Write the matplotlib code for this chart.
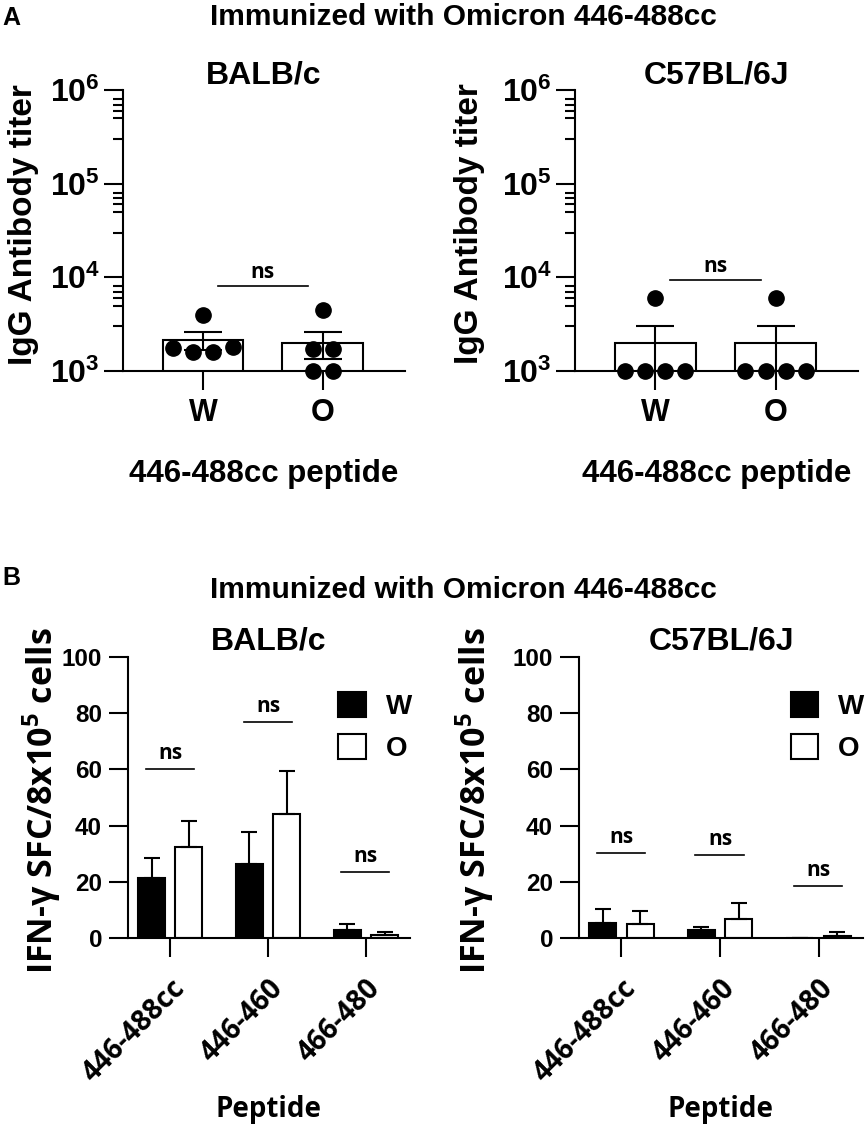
import numpy as np
import matplotlib
matplotlib.use("Agg")
import matplotlib.pyplot as plt
from matplotlib.ticker import LogLocator, NullFormatter

plt.rcParams['font.family'] = 'Liberation Sans'
plt.rcParams['font.weight'] = 'bold'
plt.rcParams['axes.titleweight'] = 'bold'
plt.rcParams['mathtext.default'] = 'regular'
plt.rcParams['axes.linewidth'] = 1.5

SANS2 = 'Open Sans'  # stand-in for the Calibri-like text

# ---- data ----
strains = ['BALB/c', 'C57BL/6J']
groups = ['W', 'O']

# panel A: IgG titer per mouse
titer_balb_w = [3960, 1760, 1600, 1600, 1800]
titer_balb_o = [4480, 1720, 1720, 1000, 1000]
titer_c57_w = [6000, 1000, 1000, 1000, 1000]
titer_c57_o = [6000, 1000, 1000, 1000, 1000]
ns_titer = [8070, 9350]

# panel B: IFN-g SFC mean and SEM
peptides = ['446-488cc', '446-460', '466-480']
sfc_balb_w = [21.5, 26.5, 2.8]
sfc_balb_w_sem = [7.0, 11.3, 2.2]
sfc_balb_o = [32.4, 44.1, 1.1]
sfc_balb_o_sem = [9.3, 15.4, 1.0]
sfc_c57_w = [5.3, 2.8, 0.0]
sfc_c57_w_sem = [5.0, 1.1, 0.0]
sfc_c57_o = [5.0, 6.8, 0.7]
sfc_c57_o_sem = [4.6, 5.7, 1.4]
ns_balb = [60.1, 77.0, 23.5]
ns_c57 = [30.2, 29.5, 18.5]

W, H = 866, 1127
fig = plt.figure(figsize=(W / 100, H / 100), dpi=100)


def px(x, y):
    return x / W, 1 - y / H


def swarm(vals, step=0.167, tol=0.15):
    logs = np.log10(vals)
    offs = np.zeros(len(vals))
    used = [False] * len(vals)
    for i in range(len(vals)):
        if used[i]:
            continue
        members = [j for j in range(len(vals)) if not used[j] and abs(logs[j] - logs[i]) < tol]
        for k, j in enumerate(members):
            offs[j] = (k - (len(members) - 1) / 2) * step
            used[j] = True
    return offs


def titer_panel(ax, data, ns_y, title):
    ax.set_yscale('log')
    for i, vals in enumerate(data):
        vals = np.array(vals, dtype=float)
        m = vals.mean()
        sem = vals.std(ddof=1) / np.sqrt(len(vals))
        ax.bar(i, m, width=0.675, color='white', edgecolor='black', lw=1.5, zorder=2)
        ax.errorbar(i, m, yerr=sem, fmt='none', ecolor='black', elinewidth=1.5,
                    capsize=14, capthick=1.5, zorder=3)
        ax.plot(i + swarm(vals), vals, 'o', color='black', ms=11, clip_on=False, zorder=4)
    ax.plot([0.125, 0.88], [ns_y, ns_y], color='black', lw=1.2)
    ax.annotate('ns', (0.5, ns_y), xytext=(0, 6), textcoords='offset points',
                ha='center', va='baseline', fontsize=15, family=SANS2)
    ax.set_ylim(1e3, 1e6)
    ax.set_xlim(-0.667, 1.685)
    ax.yaxis.set_major_locator(LogLocator(base=10, numticks=10))
    ax.yaxis.set_minor_locator(LogLocator(base=10, subs=(3, 5, 6, 7, 8)))
    ax.yaxis.set_minor_formatter(NullFormatter())
    ax.set_xticks([0, 1])
    ax.set_xticklabels(groups)
    ax.tick_params(axis='both', which='major', length=13.7, width=1.5)
    ax.tick_params(axis='y', which='major', labelsize=23, pad=3)
    ax.tick_params(axis='x', which='major', labelsize=22, pad=6)
    ax.tick_params(axis='y', which='minor', length=7, width=1.5)
    for s in ['top', 'right']:
        ax.spines[s].set_visible(False)
    ax.set_title(title, fontsize=23, pad=3.6)


def sfc_panel(ax, w, w_sem, o, o_sem, ns_y, title):
    x = np.arange(len(peptides))
    ax.bar(x - 0.19, w, 0.275, color='black', edgecolor='black', lw=1.5, label='W', zorder=2)
    ax.bar(x + 0.19, o, 0.275, color='white', edgecolor='black', lw=1.5, label='O', zorder=2)
    ax.errorbar(x - 0.19, w, yerr=[np.zeros(len(w)), w_sem], fmt='none', ecolor='black',
                elinewidth=1.5, capsize=5.5, capthick=1.5, zorder=3)
    ax.errorbar(x + 0.19, o, yerr=[np.zeros(len(o)), o_sem], fmt='none', ecolor='black',
                elinewidth=1.5, capsize=5.5, capthick=1.5, zorder=3)
    for xi, yi in zip(x, ns_y):
        ax.plot([xi - 0.25, xi + 0.24], [yi, yi], color='black', lw=1.2)
        ax.annotate('ns', (xi, yi), xytext=(0, 7), textcoords='offset points',
                    ha='center', va='baseline', fontsize=15, family=SANS2)
    ax.set_ylim(0, 100)
    ax.set_yticks(np.arange(0, 101, 20))
    ax.set_xlim(-0.43, 2.45)
    ax.set_xticks(x)
    ax.set_xticklabels(peptides, rotation=45, ha='right', rotation_mode='anchor',
                       family=SANS2, fontsize=20)
    ax.tick_params(axis='both', which='major', length=13.7, width=1.5)
    ax.tick_params(axis='y', labelsize=17.5, pad=5)
    ax.tick_params(axis='x', pad=12)
    for s in ['top', 'right']:
        ax.spines[s].set_visible(False)
    ax.set_title(title, fontsize=23, pad=1.4)
    ax.legend(loc='upper left', bbox_to_anchor=(0.745, 0.875), frameon=False,
              borderpad=0, borderaxespad=0, handlelength=1.0, handleheight=1.0,
              handletextpad=0.72, labelspacing=0.5, fontsize=20)


ax1 = fig.add_axes([123 / W, 1 - 371 / H, 282 / W, 281 / H])
ax2 = fig.add_axes([575 / W, 1 - 371 / H, 283 / W, 281 / H])
ax3 = fig.add_axes([128 / W, 1 - 938 / H, 282 / W, 281 / H])
ax4 = fig.add_axes([579 / W, 1 - 938 / H, 284 / W, 281 / H])

titer_panel(ax1, [titer_balb_w, titer_balb_o], ns_titer[0], strains[0])
titer_panel(ax2, [titer_c57_w, titer_c57_o], ns_titer[1], strains[1])
sfc_panel(ax3, sfc_balb_w, sfc_balb_w_sem, sfc_balb_o, sfc_balb_o_sem, ns_balb, strains[0])
sfc_panel(ax4, sfc_c57_w, sfc_c57_w_sem, sfc_c57_o, sfc_c57_o_sem, ns_c57, strains[1])

# headings and axis labels
fig.text(*px(2, 25), 'A', fontsize=18, ha='left', va='baseline')
fig.text(*px(2, 585), 'B', fontsize=18, ha='left', va='baseline')
fig.text(*px(463, 25), 'Immunized with Omicron 446-488cc', fontsize=21.5, ha='center', va='baseline')
fig.text(*px(463, 598), 'Immunized with Omicron 446-488cc', fontsize=21.5, ha='center', va='baseline')

for xb, yc in [(32, 225), (478, 224)]:
    fig.text(*px(xb, yc), 'IgG Antibody titer', fontsize=24, rotation=90,
             rotation_mode='anchor', ha='center', va='baseline')
for xc in [264, 717]:
    fig.text(*px(xc, 482), '446-488cc peptide', fontsize=22.5, ha='center', va='baseline')

for xb in [53, 486]:
    fig.text(*px(xb, 801), 'IFN-γ SFC/8x10$^{5}$ cells', fontsize=24.5, family=SANS2,
             rotation=90, rotation_mode='anchor', ha='center', va='baseline')
for xc in [269, 721]:
    fig.text(*px(xc, 1117), 'Peptide', fontsize=20, family=SANS2, ha='center', va='baseline')

fig.savefig('out.png', dpi=100)
